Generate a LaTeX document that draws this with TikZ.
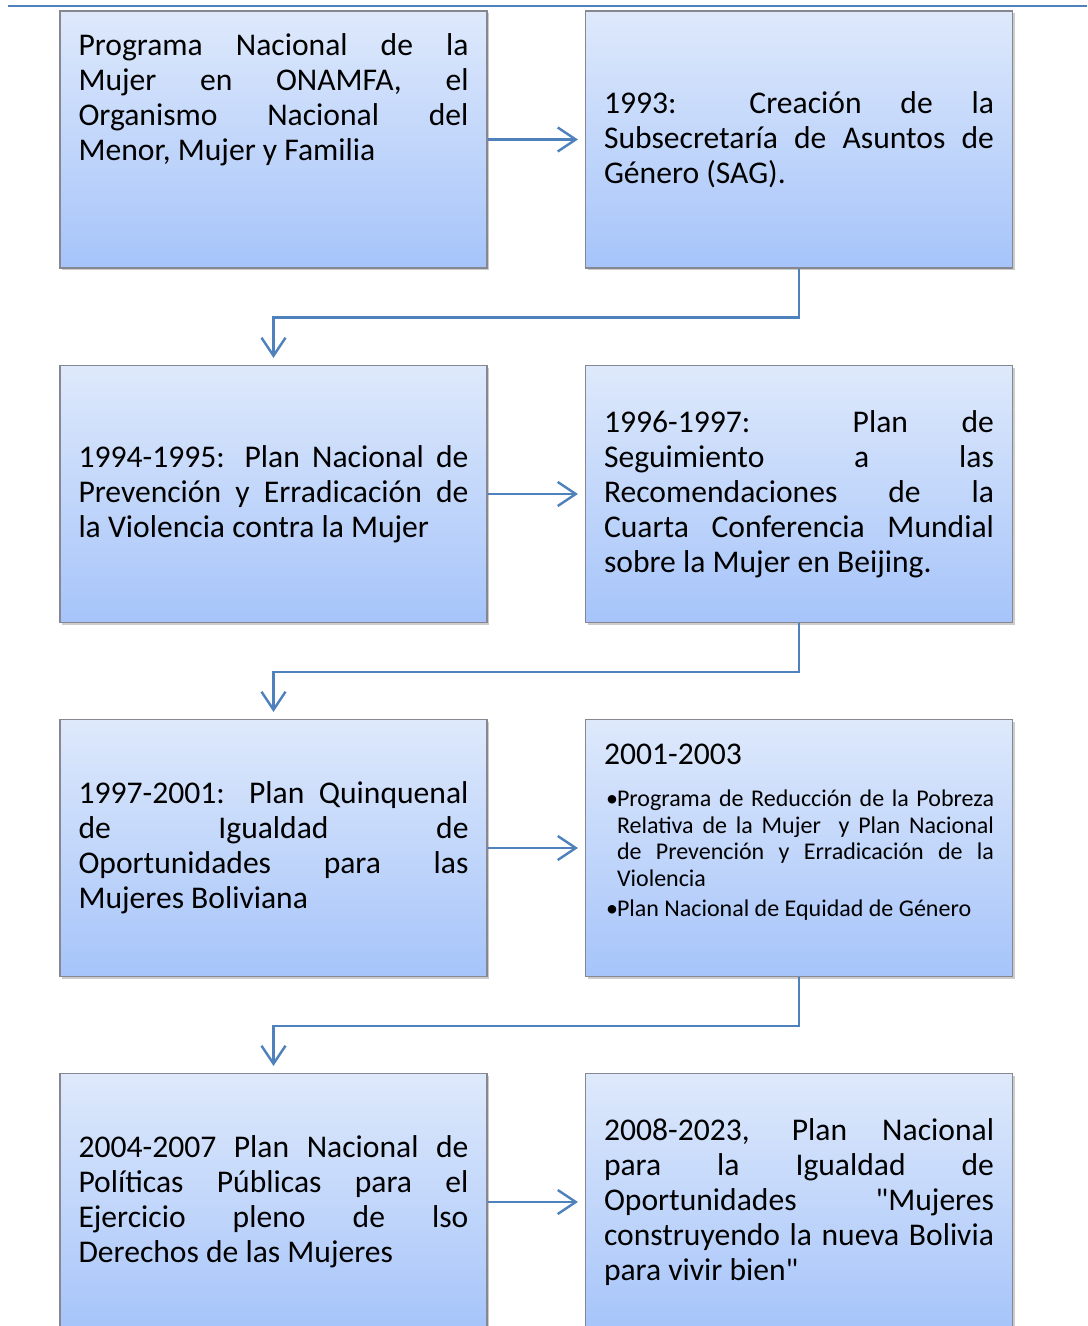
\documentclass[tikz,border=0pt]{standalone}
\usepackage{fontspec}
\setmainfont{Carlito}
\newfontfamily\recto{Carlito}[Ligatures=ResetAll]
\usetikzlibrary{arrows.meta,shadows}

\definecolor{linea}{RGB}{79,129,189}
\definecolor{cajaarriba}{RGB}{222,233,251}
\definecolor{cajaabajo}{RGB}{166,196,250}
\definecolor{borde}{RGB}{135,135,145}

\tikzset{
  caja/.style={draw=borde, line width=0.6pt, top color=cajaarriba, bottom color=cajaabajo,
    drop shadow={shadow xshift=1.2pt, shadow yshift=-1.2pt, opacity=0.4},
    minimum width=213.5pt, minimum height=128.5pt, inner sep=0pt,
    text width=195pt, align=justify, font=\fontsize{15.8}{17.5}\selectfont},
  flecha/.style={draw=linea, line width=1.2pt, shorten >=3.5pt,
    -{Straight Barb[length=9pt,width=12pt,line width=1.2pt]}}
}
\newcommand{\vineta}{\hangindent=6.5pt\hangafter=1\noindent\hspace*{1pt}\makebox[5.5pt][l]{•}}
\newcommand{\comilla}{{\recto"}}

\begin{document}
\begin{tikzpicture}[x=0.5pt,y=-0.5pt]
  \useasboundingbox (0,0) rectangle (1087,1326);
  \draw[linea, line width=1pt] (8,6) -- (1087,6);

  % fila 1
  \node[caja, text depth=95pt] (onamfa) at (273.5,139.5) {Programa Nacional de la\linebreak
    Mujer en ONAMFA, el\linebreak Organismo Nacional del\linebreak Menor, Mujer y Familia};
  \node[caja] (sag) at (799,139.5) {1993: Creación de la\linebreak
    Subsecretaría de Asuntos de\linebreak Género (SAG).};

  % fila 2
  \node[caja] (violencia) at (273.5,494) {1994-1995: Plan Nacional de\linebreak
    Prevención y Erradicación de\linebreak la Violencia contra la Mujer};
  \node[caja] (beijing) at (799,494) {1996-1997: Plan de\linebreak
    Seguimiento a las\linebreak Recomendaciones de la\linebreak
    Cuarta Conferencia Mundial\linebreak sobre la Mujer en Beijing.};

  % fila 3
  \node[caja] (quinquenal) at (273.5,848) {1997-2001: Plan Quinquenal\linebreak
    de Igualdad de\linebreak Oportunidades para las\linebreak Mujeres Boliviana};
  \node[caja, text depth=94pt] (pobreza) at (799,848) {2001-2003\par\vspace{8pt}
    {\fontsize{12}{13.25}\selectfont
    \vineta Programa de Reducción de la Pobreza\linebreak Relativa de la Mujer\ \ y Plan Nacional\linebreak
    de Prevención y Erradicación de la\linebreak Violencia\par
    \vspace{1.75pt}
    \vineta Plan Nacional de Equidad de Género\par}};

  % fila 4
  \node[caja] (derechos) at (273.5,1202) {2004-2007 Plan Nacional de\linebreak
    Políticas Públicas para el\linebreak Ejercicio pleno de lso\linebreak Derechos de las Mujeres};
  \node[caja] (vivirbien) at (799,1202) {2008-2023, Plan Nacional\linebreak
    para la Igualdad de\linebreak Oportunidades \comilla Mujeres\linebreak
    construyendo la nueva Bolivia\linebreak para vivir bien\comilla};

  % flechas
  \draw[flecha] (onamfa.east) -- (sag.west);
  \draw[flecha] (sag.south) -- ++(0,49) -| (violencia.north);
  \draw[flecha] (violencia.east) -- (beijing.west);
  \draw[flecha] (beijing.south) -- ++(0,49) -| (quinquenal.north);
  \draw[flecha] (quinquenal.east) -- (pobreza.west);
  \draw[flecha] (pobreza.south) -- ++(0,49) -| (derechos.north);
  \draw[flecha] (derechos.east) -- (vivirbien.west);
\end{tikzpicture}
\end{document}
